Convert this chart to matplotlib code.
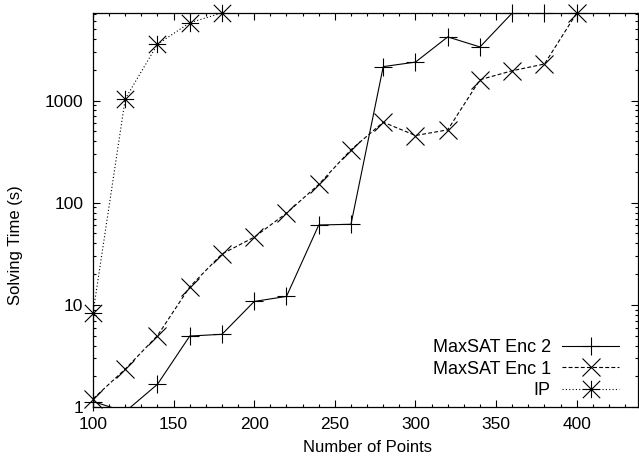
import matplotlib
matplotlib.use("Agg")
import matplotlib.pyplot as plt
import numpy as np
from matplotlib.lines import Line2D
from matplotlib.path import Path
from matplotlib.ticker import MultipleLocator, LogLocator, FixedLocator, FixedFormatter, NullFormatter

plt.rcParams['font.family'] = ['Liberation Sans', 'DejaVu Sans']

# ---- data ----
x_enc2 = [100, 120, 140, 160, 180, 200, 220, 240, 260, 280, 300, 320, 340, 360, 380, 400]
y_enc2 = [1.13, 0.9, 1.67, 4.95, 5.15, 10.8, 12.1, 60.5, 61.5, 2150, 2380, 4200, 3350, 7200, 7200, 7200]

x_enc1 = [100, 120, 140, 160, 180, 200, 220, 240, 260, 280, 300, 320, 340, 360, 380, 400]
y_enc1 = [1.2, 2.35, 5.0, 15.0, 31.5, 46.0, 79.0, 151, 330, 614, 455, 517, 1600, 1960, 2280, 7200]

x_ip = [100, 120, 140, 160, 180]
y_ip = [8.3, 1040, 3560, 5780, 7200]

labels = ["MaxSAT Enc 2", "MaxSAT Enc 1", "IP"]
y_ticks = [1, 10, 100, 1000]
y_ticklabels = ["1", "10", "100", "1000"]
x_ticks = [100, 150, 200, 250, 300, 350, 400]

XMIN, XMAX = 100, 438
YMIN, YMAX = 1, 7200

# asterisk marker (plus + cross)
star = Path([(-1, 0), (1, 0), (0, -1), (0, 1), (-1, -1), (1, 1), (-1, 1), (1, -1)],
            [Path.MOVETO, Path.LINETO] * 4)

fig = plt.figure(figsize=(6.39, 4.62), dpi=100)
ax = fig.add_axes([93/639, 1 - 407/462, (638 - 93)/639, (407 - 13)/462])

FS_TICK = 12.5
FS_LAB = 12
FS_LEG = 13
lw = 0.8
ms = 12.5
styles = [
    dict(ls='-', marker='+'),
    dict(ls=(0, (3.5, 2.0)), marker='x'),
    dict(ls=(0, (1.0, 2.0)), marker=star),
]
series = [(x_enc2, y_enc2), (x_enc1, y_enc1), (x_ip, y_ip)]

handles = []
for (xs, ys), st, lab in zip(series, styles, labels):
    xs = np.asarray(xs, float)
    ys = np.asarray(ys, float)
    ax.plot(xs, ys, color='black', lw=lw, ls=st['ls'], clip_on=True, zorder=3)
    m = (ys >= YMIN) & (ys <= YMAX)
    ax.plot(xs[m], ys[m], ls='none', marker=st['marker'], ms=ms, mew=lw,
            color='black', mfc='none', clip_on=False, zorder=4)
    handles.append(Line2D([], [], color='black', lw=lw, ls=st['ls'],
                          marker=st['marker'], ms=ms, mew=lw, mfc='none'))

ax.set_yscale('log')
ax.set_xlim(XMIN, XMAX)
ax.set_ylim(YMIN, YMAX)

ax.xaxis.set_major_locator(FixedLocator(x_ticks))
ax.xaxis.set_minor_locator(MultipleLocator(10))
ax.yaxis.set_major_locator(FixedLocator(y_ticks))
ax.yaxis.set_major_formatter(FixedFormatter(y_ticklabels))
ax.yaxis.set_minor_locator(LogLocator(base=10, subs=np.arange(2, 10)))
ax.yaxis.set_minor_formatter(NullFormatter())

ax.tick_params(which='both', direction='in', top=True, right=True,
               labelsize=FS_TICK, width=0.8, colors='black')
ax.tick_params(axis='x', pad=7)
ax.tick_params(axis='y', pad=7)
ax.tick_params(which='major', length=5)
ax.tick_params(which='minor', length=2.5)
for s in ax.spines.values():
    s.set_linewidth(0.9)
    s.set_color('black')

ax.set_xlabel("Number of Points", fontsize=FS_LAB)
ax.set_ylabel("Solving Time (s)", fontsize=FS_LAB)
ax.xaxis.set_label_coords(0.503, -0.083)
ax.yaxis.label.set_va('center')
ax.yaxis.set_label_coords(-0.142, 0.41)

leg = ax.legend(handles, labels, loc='lower right', bbox_to_anchor=(0.966, 0.02),
                frameon=False, markerfirst=False, fontsize=FS_LEG, handlelength=3.2,
                handletextpad=0.6, labelspacing=0.25, borderpad=0, borderaxespad=0)

fig.savefig("out.png", dpi=100)
